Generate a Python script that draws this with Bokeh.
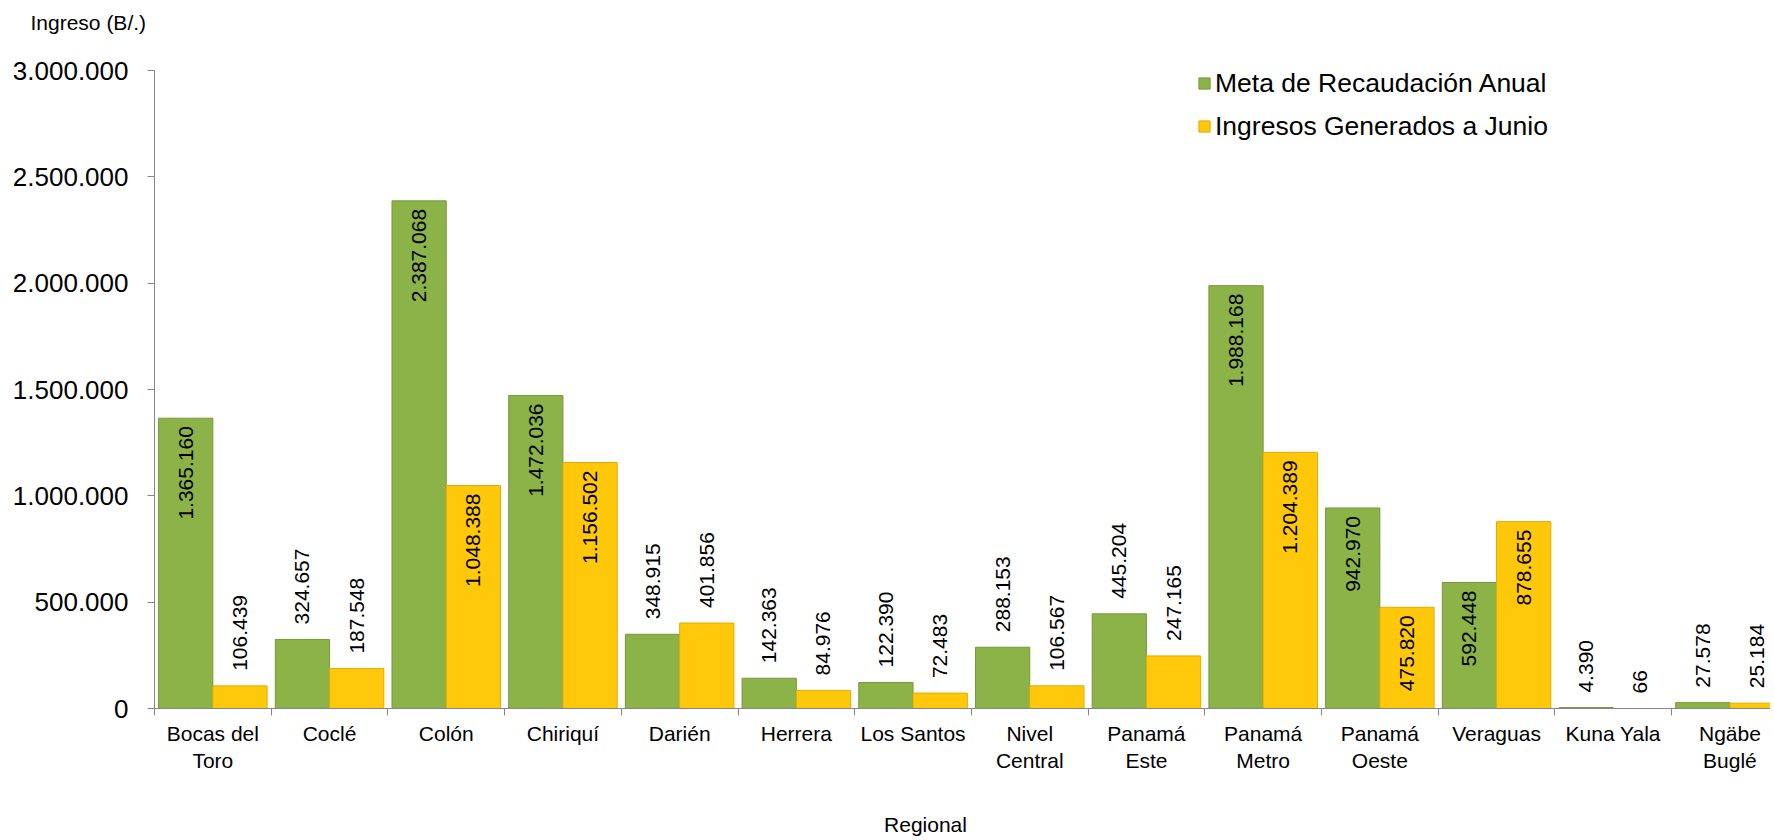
import math
from bokeh.plotting import figure
from bokeh.models import Range1d, FixedTicker, Label, Legend, LegendItem, ColumnDataSource
from bokeh.transform import dodge
from bokeh.core.properties import value
from bokeh.embed import file_html
from bokeh.resources import INLINE

# ---- data ----
regions = ["Bocas del\nToro", "Coclé", "Colón", "Chiriquí", "Darién", "Herrera",
           "Los Santos", "Nivel\nCentral", "Panamá\nEste", "Panamá\nMetro",
           "Panamá\nOeste", "Veraguas", "Kuna Yala", "Ngäbe\nBuglé"]
meta = [1365160, 324657, 2387068, 1472036, 348915, 142363, 122390, 288153,
        445204, 1988168, 942970, 592448, 4390, 27578]
ingresos = [106439, 187548, 1048388, 1156502, 401856, 84976, 72483, 106567,
            247165, 1204389, 475820, 878655, 66, 25184]
y_ticks = [0, 500000, 1000000, 1500000, 2000000, 2500000, 3000000]
series_names = ["Meta de Recaudación Anual", "Ingresos Generados a Junio"]
y_title = "Ingreso (B/.)"
x_title = "Regional"

FONT = "Liberation Sans"
GREEN = "#8cb347"
GREEN_EDGE = "#78983a"
YELLOW = "#ffc80a"
YELLOW_EDGE = "#e3ab00"
GRAY = "#868686"


def fmt(v):
    return f"{v:,}".replace(",", ".")


# ---- layout (pixels) ----
W, H = 1770, 836
AX_X, TOP_Y, ZERO_Y = 154, 70, 708
CAT_PX = 116.7
YMAX = 3000000
PPU = (ZERO_Y - TOP_Y) / YMAX
n = len(regions)
x_end = (W - AX_X) / CAT_PX

p = figure(width=W, height=H, output_backend="svg", toolbar_location=None,
           x_range=Range1d(-AX_X / CAT_PX, x_end),
           y_range=Range1d(-(H - ZERO_Y) / PPU, YMAX + TOP_Y / PPU),
           min_border=0)
p.outline_line_color = None
p.grid.visible = False
p.background_fill_color = "white"
p.border_fill_color = "white"

centers = [i + 0.5 for i in range(n)]
src = ColumnDataSource(dict(x=centers, meta=meta, ingresos=ingresos))
BW = 0.465
gr = p.vbar(x=dodge("x", -BW / 2), top="meta", bottom=0, width=BW, source=src,
            fill_color=GREEN, line_color=GREEN_EDGE, line_width=1)
yr = p.vbar(x=dodge("x", BW / 2), top="ingresos", bottom=0, width=BW, source=src,
            fill_color=YELLOW, line_color=YELLOW_EDGE, line_width=1)

# data labels (inside the bar end when the bar is tall enough, else above it)
THRESH = 460000
lab_in = dict(x=[], y=[], t=[])
lab_out = dict(x=[], y=[], t=[])
for off, vals in ((-BW / 2, meta), (BW / 2, ingresos)):
    for c, v in zip(centers, vals):
        d = lab_in if v > THRESH else lab_out
        d["x"].append(c + off)
        d["y"].append(v)
        d["t"].append(fmt(v))

p.text(x="x", y="y", text="t", source=ColumnDataSource(lab_in), angle=math.pi / 2,
       text_align="right", text_baseline="middle", y_offset=8,
       text_font=value(FONT), text_font_size="21px", text_color="black")
p.text(x="x", y="y", text="t", source=ColumnDataSource(lab_out), angle=math.pi / 2,
       text_align="left", text_baseline="middle", y_offset=-15,
       text_font=value(FONT), text_font_size="21px", text_color="black")

# y axis
ya = p.yaxis[0]
ya.fixed_location = 0
ya.bounds = (0, YMAX)
ya.ticker = FixedTicker(ticks=y_ticks)
ya.major_label_overrides = {t: fmt(t) for t in y_ticks}
ya.major_tick_out = 7
ya.major_tick_in = 0
ya.minor_tick_out = 0
ya.minor_tick_in = 0
ya.axis_line_color = GRAY
ya.major_tick_line_color = GRAY
ya.major_label_standoff = 19
ya.major_label_text_font = FONT
ya.major_label_text_font_size = "26px"
ya.major_label_text_color = "black"

# x axis
xa = p.xaxis[0]
xa.fixed_location = 0
xa.bounds = (0, x_end)
xa.ticker = FixedTicker(ticks=centers, minor_ticks=list(range(n + 1)))
xa.major_label_overrides = {c: r for c, r in zip(centers, regions)}
xa.major_tick_out = 0
xa.major_tick_in = 0
xa.minor_tick_out = 7
xa.minor_tick_in = 0
xa.minor_tick_line_color = GRAY
xa.axis_line_color = GRAY
xa.major_label_standoff = 6
xa.major_label_text_font = FONT
xa.major_label_text_font_size = "21px"
xa.major_label_text_color = "black"

# axis titles
p.add_layout(Label(x=0, y=YMAX, x_offset=-124, y_offset=48, text=y_title,
                   text_font=FONT, text_font_size="21px", text_baseline="middle",
                   text_align="left", text_color="black"))
p.add_layout(Label(x=0, y=0, x_offset=771, y_offset=-116, text=x_title,
                   text_font=FONT, text_font_size="21px", text_baseline="middle",
                   text_align="center", text_color="black"))

legend = Legend(items=[LegendItem(label=series_names[0], renderers=[gr]),
                       LegendItem(label=series_names[1], renderers=[yr])],
                location=(1197, H - 141.5), orientation="vertical",
                background_fill_alpha=0, border_line_color=None, padding=0, margin=0,
                spacing=12, glyph_width=14, glyph_height=14, label_standoff=4,
                label_text_font=FONT, label_text_font_size="26.5px",
                label_text_color="black", label_height=30)
p.add_layout(legend)

open("out.html", "w").write(file_html(p, INLINE))
